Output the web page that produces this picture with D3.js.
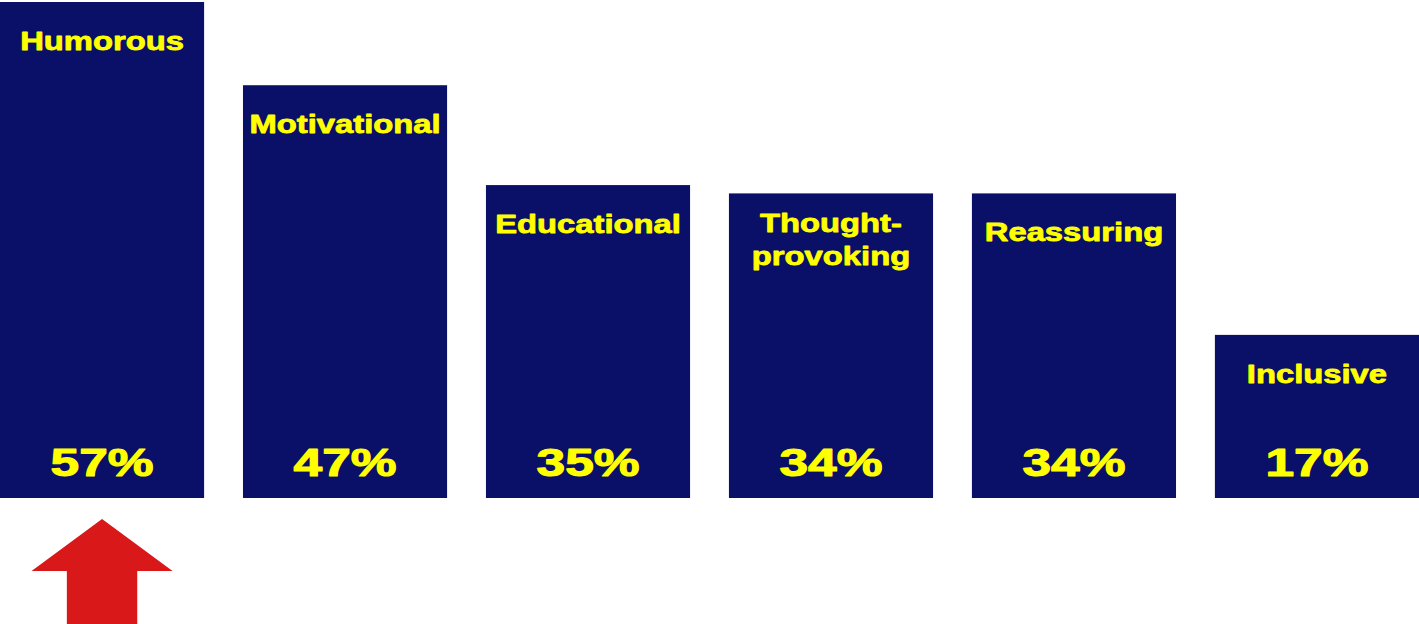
<!DOCTYPE html>
<html>
<head>
<meta charset="utf-8">
<script src="https://cdn.jsdelivr.net/npm/d3@7"></script>
<style>
  html, body { margin: 0; padding: 0; background: #ffffff; }
  svg { display: block; }
</style>
</head>
<body>
<svg id="chart" width="1419" height="624"></svg>
<script>
// ---- data ----
const categories = ["Humorous", "Motivational", "Educational", "Thought-provoking", "Reassuring", "Inclusive"];
const values = [57, 47, 35, 34, 34, 17];
const valueLabels = ["57%", "47%", "35%", "34%", "34%", "17%"];
const highlighted = ["Humorous"];

// ---- layout ----
const W = 1419, H = 624;
const barColor = "#0a0f68";
const textColor = "#ffff00";
const arrowColor = "#d9181a";
const font = "'Liberation Sans', Arial, Helvetica, sans-serif";

const svg = d3.select("#chart");

const x = d3.scaleBand()
  .domain(categories)
  .range([0, W])
  .paddingInner(0.16)
  .paddingOuter(0);

const y = d3.scaleLinear()
  .domain([-2.6, 57])
  .range([498, 2]);

const data = categories.map((c, i) => ({ cat: c, value: values[i], label: valueLabels[i] }));

const bars = svg.append("g").selectAll("g.bar")
  .data(data)
  .join("g")
  .attr("class", "bar");

bars.append("rect")
  .attr("x", d => x(d.cat))
  .attr("y", d => y(d.value))
  .attr("width", x.bandwidth())
  .attr("height", d => y(-2.6) - y(d.value))
  .attr("fill", barColor);

// category labels (split after hyphen onto two lines)
const catSize = 26, catScale = 1.26, lineH = 33;
bars.each(function(d) {
  const parts = d.cat.includes("-") ? [d.cat.slice(0, d.cat.indexOf("-") + 1), d.cat.slice(d.cat.indexOf("-") + 1)] : [d.cat];
  const cx = x(d.cat) + x.bandwidth() / 2;
  const first = y(d.value) + 48 - (parts.length - 1) * 9;
  const g = d3.select(this);
  parts.forEach((p, k) => {
    g.append("text")
      .attr("transform", `translate(${cx},${first + k * lineH}) scale(${catScale},1)`)
      .attr("text-anchor", "middle")
      .attr("font-family", font)
      .attr("font-weight", "bold")
      .attr("font-size", catSize)
      .attr("fill", textColor)
      .attr("stroke", textColor)
      .attr("stroke-width", 0.8)
      .attr("stroke-linejoin", "round")
      .text(p);
  });
});

// value labels near bar bottom
bars.append("text")
  .attr("transform", d => `translate(${x(d.cat) + x.bandwidth() / 2},${y(-2.6) - 22}) scale(1.32,1)`)
  .attr("text-anchor", "middle")
  .attr("font-family", font)
  .attr("font-weight", "bold")
  .attr("font-size", 39)
  .attr("fill", textColor)
  .attr("stroke", textColor)
  .attr("stroke-width", 1.1)
  .attr("stroke-linejoin", "round")
  .text(d => d.label);

// red up arrow under the highlighted bar
highlighted.forEach(c => {
  const cx = x(c) + x.bandwidth() / 2;
  const top = y(-2.6) + 21;
  const headH = 52, headHalf = 70.5, shaftHalf = 35.2, bottom = H + 4;
  const pts = [
    [cx, top],
    [cx + headHalf, top + headH],
    [cx + shaftHalf, top + headH],
    [cx + shaftHalf, bottom],
    [cx - shaftHalf, bottom],
    [cx - shaftHalf, top + headH],
    [cx - headHalf, top + headH]
  ];
  svg.append("path")
    .attr("d", d3.line()(pts) + "Z")
    .attr("fill", arrowColor);
});
</script>
</body>
</html>
